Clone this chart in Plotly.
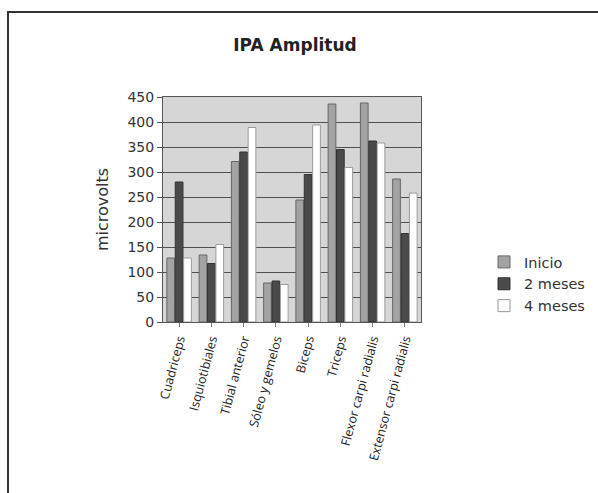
import plotly.graph_objects as go

categories = ["Cuadriceps", "Isquiotibiales", "Tibial anterior", "Sóleo y gemelos",
              "Biceps", "Triceps", "Flexor carpi radialis", "Extensor carpi radialis"]
inicio = [128, 134, 321, 78, 244, 436, 438, 286]
meses2 = [280, 117, 340, 82, 295, 345, 362, 177]
meses4 = [128, 155, 389, 75, 394, 309, 358, 258]
y_ticks = [0, 50, 100, 150, 200, 250, 300, 350, 400, 450]

W, H = 598, 493
L, R, T, B = 163, 177, 97, 171
pw, ph = W - L - R, H - T - B

def px(x):
    return (x - L) / pw

def py(y):
    return (H - B - y) / ph

fig = go.Figure()
fig.add_bar(name="Inicio", x=categories, y=inicio,
            marker=dict(color="#a3a3a3", line=dict(color="#666666", width=1)))
fig.add_bar(name="2 meses", x=categories, y=meses2,
            marker=dict(color="#4a4a4a", line=dict(color="#333333", width=1)))
fig.add_bar(name="4 meses", x=categories, y=meses4,
            marker=dict(color="#ffffff", line=dict(color="#9a9a9a", width=1)))

fig.update_layout(
    width=W, height=H,
    margin=dict(l=L, r=R, t=T, b=B, autoexpand=False),
    paper_bgcolor="white",
    plot_bgcolor="#d6d6d6",
    barmode="group",
    bargap=0.22,
    bargroupgap=0.08,
    font=dict(family="DejaVu Sans", color="#333333"),
    title=dict(text="<b>IPA Amplitud</b>", xref="container", yref="container",
               x=295 / W, y=1 - 45 / H, xanchor="center", yanchor="middle",
               font=dict(size=17, color="#222222")),
    legend=dict(x=px(484), y=py(284), xanchor="left", yanchor="middle",
                font=dict(size=14.5, color="#333333"), bgcolor="rgba(0,0,0,0)",
                tracegroupgap=0, itemwidth=30),
    showlegend=True,
    xaxis=dict(tickangle=-75, tickfont=dict(family="Open Sans", size=12.5, color="#222222"),
               showline=True, linecolor="#555555", mirror=True, ticks="outside",
               ticklen=4, tickcolor="#777777", showgrid=False),
    yaxis=dict(range=[0, 450], tickvals=y_ticks, tickfont=dict(size=14, color="#333333"),
               title=dict(text="microvolts", font=dict(size=16, color="#333333"), standoff=14),
               showline=True, linecolor="#555555", mirror=True, ticks="outside",
               ticklen=5, tickcolor="#555555", gridcolor="#505050", gridwidth=1,
               zeroline=False),
    shapes=[dict(type="rect", xref="paper", yref="paper",
                 x0=px(8), x1=px(610), y0=py(500), y1=py(12),
                 line=dict(color="#333333", width=2), fillcolor="rgba(0,0,0,0)", layer="below")],
)

fig.write_html("out.html")
